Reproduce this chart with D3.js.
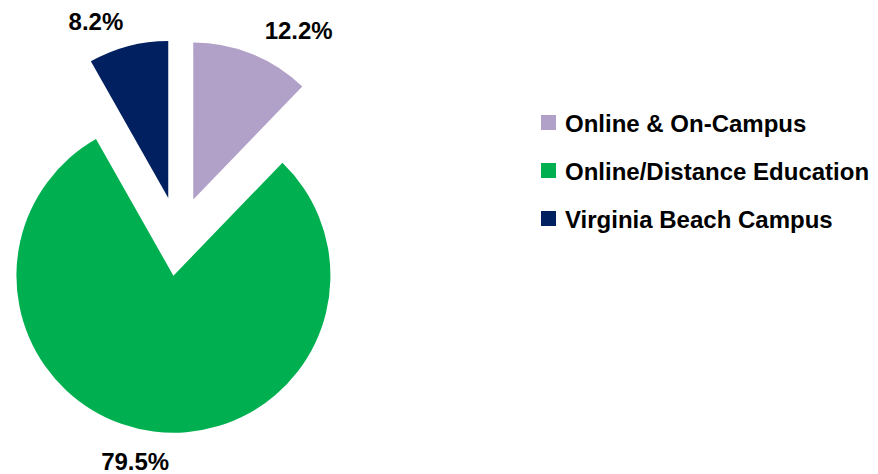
<!DOCTYPE html>
<html>
<head>
<meta charset="utf-8">
<script src="https://cdn.jsdelivr.net/npm/d3@7"></script>
<style>
  body { margin: 0; background: #fff; }
  text { font-family: "Liberation Sans", Arial, sans-serif; font-weight: bold; fill: #000; }
</style>
</head>
<body>
<div id="chart"></div>
<script>
// data
var categories = ["Online & On-Campus", "Online/Distance Education", "Virginia Beach Campus"];
var values = [12.2, 79.5, 8.2];
var colors = ["#B1A0C7", "#00B050", "#002060"];

var width = 878, height = 474;
var cx = 178.4, cy = 236.3, radius = 157, explode = 39.7;

var svg = d3.select("#chart").append("svg")
    .attr("width", width)
    .attr("height", height);

var pie = d3.pie().sort(null).value(d => d.value);
var arcs = pie(values.map((v, i) => ({ name: categories[i], value: v, color: colors[i] })));

var arc = d3.arc().innerRadius(0).outerRadius(radius);

// label tweaks: extra radius (px) and angle (deg), roughly where excel puts outside-end labels
var labelPad = [42, 33, 34];
var labelTurn = [10, 4.4, -7.5];

var g = svg.append("g").attr("transform", "translate(" + cx + "," + cy + ")");

var slices = g.selectAll("g.slice")
    .data(arcs)
    .enter().append("g")
    .attr("class", "slice")
    .attr("transform", function(d) {
        var mid = (d.startAngle + d.endAngle) / 2;
        return "translate(" + (explode * Math.sin(mid)) + "," + (-explode * Math.cos(mid)) + ")";
    });

slices.append("path")
    .attr("d", arc)
    .style("fill", d => d.data.color);

slices.append("text")
    .attr("transform", function(d, i) {
        var r = radius + labelPad[i];
        var a = labelTurn[i] * Math.PI / 180;
        var c = d3.arc().innerRadius(r).outerRadius(r)
            .centroid({ startAngle: d.startAngle + a, endAngle: d.endAngle + a });
        return "translate(" + c[0] + "," + c[1] + ")";
    })
    .attr("text-anchor", "middle")
    .attr("dy", "0.36em")
    .style("font-size", "24px")
    .text(d => d.data.value.toFixed(1) + "%");

// legend
var legend = svg.append("g").attr("transform", "translate(541,123)");
var rows = legend.selectAll("g")
    .data(categories)
    .enter().append("g")
    .attr("transform", (d, i) => "translate(0," + (i * 48) + ")");

rows.append("rect")
    .attr("x", 0)
    .attr("y", -8)
    .attr("width", 15)
    .attr("height", 15)
    .style("fill", (d, i) => colors[i]);

rows.append("text")
    .attr("x", 24)
    .attr("dy", "0.36em")
    .style("font-size", "24px")
    .text(d => d);
</script>
</body>
</html>
